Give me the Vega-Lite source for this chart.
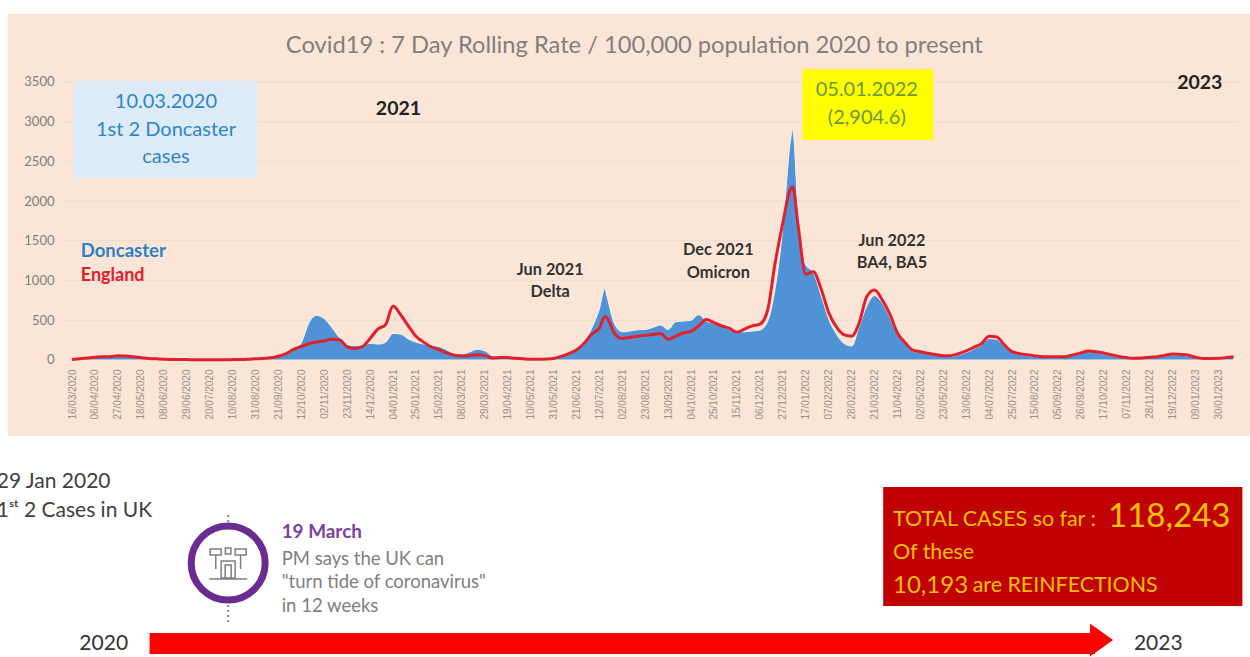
{"$schema":"https://vega.github.io/schema/vega-lite/v6.json","width":1250,"height":657,"padding":0,"autosize":{"type":"fit","contains":"padding"},"background":"#ffffff","view":{"stroke":null},
"datasets":{"series":[
{"date":"2020-03-16","doncaster":5,"england":5},{"date":"2020-03-23","doncaster":15,"england":15},{"date":"2020-03-30","doncaster":30,"england":25},{"date":"2020-04-06","doncaster":40,"england":35},{"date":"2020-04-13","doncaster":45,"england":40},{"date":"2020-04-20","doncaster":50,"england":42},{"date":"2020-04-27","doncaster":65,"england":52},{"date":"2020-05-04","doncaster":72,"england":50},{"date":"2020-05-11","doncaster":50,"england":40},{"date":"2020-05-18","doncaster":40,"england":30},{"date":"2020-05-25","doncaster":32,"england":20},{"date":"2020-06-01","doncaster":35,"england":15},{"date":"2020-06-08","doncaster":15,"england":10},{"date":"2020-06-15","doncaster":8,"england":6},{"date":"2020-06-22","doncaster":6,"england":5},{"date":"2020-06-29","doncaster":5,"england":5},{"date":"2020-07-06","doncaster":5,"england":4},{"date":"2020-07-13","doncaster":4,"england":4},{"date":"2020-07-20","doncaster":4,"england":4},{"date":"2020-07-27","doncaster":5,"england":4},{"date":"2020-08-03","doncaster":5,"england":4},{"date":"2020-08-10","doncaster":5,"england":5},{"date":"2020-08-17","doncaster":6,"england":6},{"date":"2020-08-24","doncaster":10,"england":9},{"date":"2020-08-31","doncaster":15,"england":15},{"date":"2020-09-07","doncaster":22,"england":20},{"date":"2020-09-14","doncaster":30,"england":28},{"date":"2020-09-21","doncaster":48,"england":48},{"date":"2020-09-28","doncaster":75,"england":80},{"date":"2020-10-05","doncaster":130,"england":135},{"date":"2020-10-12","doncaster":215,"england":170},{"date":"2020-10-19","doncaster":470,"england":205},{"date":"2020-10-26","doncaster":560,"england":225},{"date":"2020-11-02","doncaster":520,"england":240},{"date":"2020-11-09","doncaster":410,"england":262},{"date":"2020-11-16","doncaster":280,"england":255},{"date":"2020-11-23","doncaster":195,"england":165},{"date":"2020-11-30","doncaster":180,"england":145},{"date":"2020-12-07","doncaster":188,"england":170},{"date":"2020-12-14","doncaster":210,"england":270},{"date":"2020-12-21","doncaster":200,"england":390},{"date":"2020-12-28","doncaster":220,"england":440},{"date":"2021-01-04","doncaster":335,"england":680},{"date":"2021-01-11","doncaster":325,"england":570},{"date":"2021-01-18","doncaster":265,"england":430},{"date":"2021-01-25","doncaster":225,"england":300},{"date":"2021-02-01","doncaster":200,"england":225},{"date":"2021-02-08","doncaster":185,"england":165},{"date":"2021-02-15","doncaster":170,"england":130},{"date":"2021-02-22","doncaster":130,"england":90},{"date":"2021-03-01","doncaster":85,"england":60},{"date":"2021-03-08","doncaster":75,"england":50},{"date":"2021-03-15","doncaster":100,"england":55},{"date":"2021-03-22","doncaster":135,"england":65},{"date":"2021-03-29","doncaster":115,"england":55},{"date":"2021-04-05","doncaster":55,"england":25},{"date":"2021-04-12","doncaster":45,"england":30},{"date":"2021-04-19","doncaster":40,"england":30},{"date":"2021-04-26","doncaster":30,"england":22},{"date":"2021-05-03","doncaster":20,"england":15},{"date":"2021-05-10","doncaster":10,"england":8},{"date":"2021-05-17","doncaster":8,"england":8},{"date":"2021-05-24","doncaster":10,"england":12},{"date":"2021-05-31","doncaster":22,"england":20},{"date":"2021-06-07","doncaster":45,"england":45},{"date":"2021-06-14","doncaster":75,"england":80},{"date":"2021-06-21","doncaster":120,"england":125},{"date":"2021-06-28","doncaster":210,"england":210},{"date":"2021-07-05","doncaster":400,"england":325},{"date":"2021-07-12","doncaster":640,"england":400},{"date":"2021-07-17","doncaster":900,"england":545},{"date":"2021-07-19","doncaster":800,"england":530},{"date":"2021-07-26","doncaster":450,"england":330},{"date":"2021-08-02","doncaster":355,"england":270},{"date":"2021-08-09","doncaster":365,"england":285},{"date":"2021-08-16","doncaster":380,"england":300},{"date":"2021-08-23","doncaster":385,"england":310},{"date":"2021-08-30","doncaster":410,"england":320},{"date":"2021-09-06","doncaster":440,"england":335},{"date":"2021-09-13","doncaster":385,"england":260},{"date":"2021-09-20","doncaster":480,"england":300},{"date":"2021-09-27","doncaster":490,"england":340},{"date":"2021-10-04","doncaster":500,"england":360},{"date":"2021-10-11","doncaster":570,"england":430},{"date":"2021-10-18","doncaster":490,"england":510},{"date":"2021-10-25","doncaster":460,"england":470},{"date":"2021-11-01","doncaster":430,"england":430},{"date":"2021-11-08","doncaster":390,"england":400},{"date":"2021-11-15","doncaster":360,"england":350},{"date":"2021-11-22","doncaster":355,"england":390},{"date":"2021-11-29","doncaster":365,"england":430},{"date":"2021-12-06","doncaster":375,"england":450},{"date":"2021-12-13","doncaster":480,"england":620},{"date":"2021-12-20","doncaster":900,"england":1220},{"date":"2021-12-27","doncaster":1650,"england":1720},{"date":"2022-01-03","doncaster":2750,"england":2150},{"date":"2022-01-05","doncaster":2904.6,"england":2180},{"date":"2022-01-10","doncaster":1900,"england":1700},{"date":"2022-01-17","doncaster":1200,"england":1080},{"date":"2022-01-24","doncaster":1100,"england":1110},{"date":"2022-01-31","doncaster":820,"england":900},{"date":"2022-02-07","doncaster":520,"england":600},{"date":"2022-02-14","doncaster":330,"england":420},{"date":"2022-02-21","doncaster":210,"england":320},{"date":"2022-02-28","doncaster":175,"england":300},{"date":"2022-03-07","doncaster":420,"england":465},{"date":"2022-03-14","doncaster":680,"england":800},{"date":"2022-03-21","doncaster":810,"england":880},{"date":"2022-03-28","doncaster":720,"england":760},{"date":"2022-04-04","doncaster":540,"england":580},{"date":"2022-04-11","doncaster":320,"england":340},{"date":"2022-04-18","doncaster":210,"england":220},{"date":"2022-04-25","doncaster":110,"england":125},{"date":"2022-05-02","doncaster":95,"england":105},{"date":"2022-05-09","doncaster":85,"england":85},{"date":"2022-05-16","doncaster":65,"england":70},{"date":"2022-05-23","doncaster":50,"england":52},{"date":"2022-05-30","doncaster":45,"england":55},{"date":"2022-06-06","doncaster":65,"england":80},{"date":"2022-06-13","doncaster":95,"england":115},{"date":"2022-06-20","doncaster":140,"england":160},{"date":"2022-06-27","doncaster":185,"england":205},{"date":"2022-07-04","doncaster":270,"england":300},{"date":"2022-07-11","doncaster":260,"england":290},{"date":"2022-07-18","doncaster":170,"england":190},{"date":"2022-07-25","doncaster":95,"england":105},{"date":"2022-08-01","doncaster":70,"england":80},{"date":"2022-08-08","doncaster":55,"england":65},{"date":"2022-08-15","doncaster":45,"england":52},{"date":"2022-08-22","doncaster":38,"england":42},{"date":"2022-08-29","doncaster":35,"england":40},{"date":"2022-09-05","doncaster":35,"england":40},{"date":"2022-09-12","doncaster":38,"england":42},{"date":"2022-09-19","doncaster":60,"england":65},{"date":"2022-09-26","doncaster":85,"england":90},{"date":"2022-10-03","doncaster":105,"england":112},{"date":"2022-10-10","doncaster":95,"england":105},{"date":"2022-10-17","doncaster":75,"england":88},{"date":"2022-10-24","doncaster":55,"england":65},{"date":"2022-10-31","doncaster":35,"england":45},{"date":"2022-11-07","doncaster":25,"england":30},{"date":"2022-11-14","doncaster":18,"england":22},{"date":"2022-11-21","doncaster":20,"england":24},{"date":"2022-11-28","doncaster":30,"england":35},{"date":"2022-12-05","doncaster":35,"england":42},{"date":"2022-12-12","doncaster":50,"england":58},{"date":"2022-12-19","doncaster":65,"england":75},{"date":"2022-12-26","doncaster":60,"england":70},{"date":"2023-01-02","doncaster":50,"england":62},{"date":"2023-01-09","doncaster":28,"england":35},{"date":"2023-01-16","doncaster":15,"england":20},{"date":"2023-01-23","doncaster":15,"england":20},{"date":"2023-01-30","doncaster":18,"england":22},{"date":"2023-02-06","doncaster":25,"england":30},{"date":"2023-02-13","doncaster":35,"england":42}
]},
"config":{"text":{"dy":1}},
"encoding":{"x":{"field":"date","type":"temporal","title":null,"scale":{"type":"utc","domain":["2020-01-10","2023-02-28"],"nice":false},"axis":{"title":null,"orient":"bottom","offset":-295,"zindex":1,"grid":false,"domain":false,"ticks":false,"labelPadding":7,"labelAngle":270,"labelAlign":"right","labelBaseline":"middle","labelFont":"Liberation Sans","labelFontSize":10,"labelColor":"#9a8f88","labelOverlap":false,"format":"%d/%m/%Y","values":["2020-03-16","2020-04-06","2020-04-27","2020-05-18","2020-06-08","2020-06-29","2020-07-20","2020-08-10","2020-08-31","2020-09-21","2020-10-12","2020-11-02","2020-11-23","2020-12-14","2021-01-04","2021-01-25","2021-02-15","2021-03-08","2021-03-29","2021-04-19","2021-05-10","2021-05-31","2021-06-21","2021-07-12","2021-08-02","2021-08-23","2021-09-13","2021-10-04","2021-10-25","2021-11-15","2021-12-06","2021-12-27","2022-01-17","2022-02-07","2022-02-28","2022-03-21","2022-04-11","2022-05-02","2022-05-23","2022-06-13","2022-07-04","2022-07-25","2022-08-15","2022-09-05","2022-09-26","2022-10-17","2022-11-07","2022-11-28","2022-12-19","2023-01-09","2023-01-30"]}},
"y":{"field":"level","type":"quantitative","title":null,"scale":{"domain":[-3739,4532],"nice":false,"zero":false},"axis":{"title":null,"offset":-56,"zindex":1,"grid":false,"domain":false,"ticks":false,"labelPadding":2,"labelFont":"Lato","labelFontSize":13,"labelColor":"#7f7f7f","format":"d","values":[0,500,1000,1500,2000,2500,3000,3500]}}},
"layer":[
{"data":{"values":[{"date":"2020-01-17","date2":"2023-02-28","level":-957,"level2":4356}]},"mark":{"type":"rect","fill":"#fbe5d6"},"encoding":{"x2":{"field":"date2"},"y2":{"field":"level2"}}},
{"data":{"values":[{"date":"2020-03-07","date2":"2023-02-18","level":500},{"date":"2020-03-07","date2":"2023-02-18","level":1000},{"date":"2020-03-07","date2":"2023-02-18","level":1500},{"date":"2020-03-07","date2":"2023-02-18","level":2000},{"date":"2020-03-07","date2":"2023-02-18","level":2500},{"date":"2020-03-07","date2":"2023-02-18","level":3000},{"date":"2020-03-07","date2":"2023-02-18","level":3500}]},"mark":{"type":"rule","color":"#f1ddcf","strokeWidth":1.5},"encoding":{"x2":{"field":"date2"}}},
{"data":{"name":"series"},"mark":{"type":"area","color":"#4f93d6","stroke":"#f6f1ec","strokeWidth":1,"interpolate":"monotone"},"encoding":{"y":{"field":"doncaster","type":"quantitative","stack":null,"title":null,"axis":{"title":null,"offset":-56,"zindex":1,"grid":false,"domain":false,"ticks":false,"labelPadding":2,"labelFont":"Lato","labelFontSize":13,"labelColor":"#7f7f7f","format":"d","values":[0,500,1000,1500,2000,2500,3000,3500]}}}},
{"data":{"name":"series"},"mark":{"type":"line","color":"#e2202c","strokeWidth":3,"strokeJoin":"round","interpolate":"monotone"},"encoding":{"y":{"field":"england","type":"quantitative","title":null,"axis":{"title":null,"offset":-56,"zindex":1,"grid":false,"domain":false,"ticks":false,"labelPadding":2,"labelFont":"Lato","labelFontSize":13,"labelColor":"#7f7f7f","format":"d","values":[0,500,1000,1500,2000,2500,3000,3500]}}}},
{"data":{"values":[{"date":"2020-03-17","date2":"2020-09-02","level":2291,"level2":3513}]},"mark":{"type":"rect","fill":"#dcebf7"},"encoding":{"x2":{"field":"date2"},"y2":{"field":"level2"}}},
{"data":{"values":[{"date":"2022-01-14","date2":"2022-05-14","level":2770,"level2":3664}]},"mark":{"type":"rect","fill":"#ffff00"},"encoding":{"x2":{"field":"date2"},"y2":{"field":"level2"}}},
{"data":{"values":[{"date":"2022-03-29","date2":"2023-02-21","level":-3097,"level2":-1599}]},"mark":{"type":"rect","fill":"#c00000"},"encoding":{"x2":{"field":"date2"},"y2":{"field":"level2"}}},
{"data":{"values":[{"date":"2020-05-26","date2":"2022-10-09","level":-3701,"level2":-3437}]},"mark":{"type":"rect","fill":"#ff0000"},"encoding":{"x2":{"field":"date2"},"y2":{"field":"level2"}}},
{"data":{"values":[{"date":"2022-10-15","level":-3525}]},"mark":{"type":"point","shape":"M-0.7,-1L0.7,0L-0.7,1Z","filled":true,"fill":"#ff0000","stroke":null,"opacity":1,"size":1089}},
{"data":{"values":[{"date":"2020-08-06","level":-1951,"level2":-2040},{"date":"2020-08-06","level":-3085,"level2":-3336}]},"mark":{"type":"rule","color":"#8a8a8a","strokeWidth":2,"strokeDash":[2,3]},"encoding":{"y2":{"field":"level2"}}},
{"data":{"values":[{"date":"2020-08-06","level":-2556}]},"mark":{"type":"point","shape":"circle","filled":false,"stroke":"#6a2c91","strokeWidth":7,"opacity":1,"size":5476}},
{"data":{"values":[{"date":"2020-08-06","level":-2556}]},"mark":{"type":"point","shape":"M-0.9,-0.7H-0.35V-0.4H-0.9ZM0.35,-0.7H0.9V-0.4H0.35ZM-0.62,-0.4V0.3M0.62,-0.4V0.3M-0.14,-0.75H0.14V-0.45H-0.14ZM-0.35,-0.1H0.35V0.75H-0.35ZM-0.15,0.1H0.15V0.75H-0.15ZM-0.95,0.8H0.95","filled":false,"stroke":"#7f7f7f","strokeWidth":1.5,"opacity":1,"size":1600}},
{"data":{"values":[{"date":"2021-08-13","level":3966,"label":"Covid19 : 7 Day Rolling Rate / 100,000 population 2020 to present"}]},"mark":{"type":"text","font":"Lato","fontSize":23.7,"color":"#7f7f7f","align":"center","baseline":"middle"},"encoding":{"text":{"field":"label"}}},
{"data":{"values":[{"date":"2020-06-10","level":3261,"label":"10.03.2020"},{"date":"2020-06-10","level":2908,"label":"1st 2 Doncaster"},{"date":"2020-06-10","level":2568,"label":"cases"}]},"mark":{"type":"text","font":"Lato","fontSize":20,"color":"#2e86c8","align":"center","baseline":"middle"},"encoding":{"text":{"field":"label"}}},
{"data":{"values":[{"date":"2022-03-14","level":3412,"label":"05.01.2022"},{"date":"2022-03-14","level":3059,"label":"(2,904.6)"}]},"mark":{"type":"text","font":"Lato","fontSize":20,"color":"#6a9a3a","align":"center","baseline":"middle"},"encoding":{"text":{"field":"label"}}},
{"data":{"values":[{"date":"2021-01-09","level":3173,"label":"2021"},{"date":"2023-01-13","level":3500,"label":"2023"}]},"mark":{"type":"text","font":"Lato","fontSize":19.5,"fontWeight":"bold","color":"#222222","align":"center","baseline":"middle"},"encoding":{"text":{"field":"label"}}},
{"data":{"values":[{"date":"2020-03-24","level":1385,"label":"Doncaster"}]},"mark":{"type":"text","font":"Lato","fontSize":18.5,"fontWeight":"bold","color":"#2e7fc4","align":"left","baseline":"middle"},"encoding":{"text":{"field":"label"}}},
{"data":{"values":[{"date":"2020-03-24","level":1070,"label":"England"}]},"mark":{"type":"text","font":"Lato","fontSize":18,"fontWeight":"bold","color":"#e2202c","align":"left","baseline":"middle"},"encoding":{"text":{"field":"label"}}},
{"data":{"values":[{"date":"2021-05-28","level":1146,"label":"Jun 2021"},{"date":"2021-05-28","level":869,"label":"Delta"},{"date":"2021-10-29","level":1397,"label":"Dec 2021"},{"date":"2021-10-29","level":1108,"label":"Omicron"},{"date":"2022-04-06","level":1511,"label":"Jun 2022"},{"date":"2022-04-06","level":1234,"label":"BA4, BA5"}]},"mark":{"type":"text","font":"Lato","fontSize":16.3,"fontWeight":"bold","color":"#333333","align":"center","baseline":"middle"},"encoding":{"text":{"field":"label"}}},
{"data":{"values":[{"date":"2020-01-07","level":-1523,"label":"29 Jan 2020"},{"date":"2020-01-07","level":-1889,"label":"1ˢᵗ 2 Cases in UK"}]},"mark":{"type":"text","font":"Lato","fontSize":21,"color":"#404040","align":"left","baseline":"middle","clip":true},"encoding":{"text":{"field":"label"}}},
{"data":{"values":[{"date":"2020-09-24","level":-2153,"label":"19 March"}]},"mark":{"type":"text","font":"Lato","fontSize":18.9,"fontWeight":"bold","color":"#7b3fa0","align":"left","baseline":"middle"},"encoding":{"text":{"field":"label"}}},
{"data":{"values":[{"date":"2020-09-24","level":-2493,"label":"PM says the UK can"},{"date":"2020-09-24","level":-2782,"label":"\"turn tide of coronavirus\""},{"date":"2020-09-24","level":-3085,"label":"in 12 weeks"}]},"mark":{"type":"text","font":"Lato","fontSize":18.5,"color":"#808080","align":"left","baseline":"middle"},"encoding":{"text":{"field":"label"}}},
{"data":{"values":[{"date":"2020-04-14","level":-3563,"label":"2020"},{"date":"2022-12-06","level":-3563,"label":"2023"}]},"mark":{"type":"text","font":"Lato","fontSize":21,"color":"#333333","align":"center","baseline":"middle"},"encoding":{"text":{"field":"label"}}},
{"data":{"values":[{"date":"2022-04-07","level":-2002,"label":"TOTAL CASES so far :"},{"date":"2022-04-07","level":-2417,"label":"Of these"},{"date":"2022-06-19","level":-2833,"label":"are REINFECTIONS"}]},"mark":{"type":"text","font":"Lato","fontSize":21.4,"color":"#ffc000","align":"left","baseline":"middle"},"encoding":{"text":{"field":"label"}}},
{"data":{"values":[{"date":"2022-04-07","level":-2833,"label":"10,193"}]},"mark":{"type":"text","font":"Lato","fontSize":24,"color":"#ffc000","align":"left","baseline":"middle"},"encoding":{"text":{"field":"label"}}},
{"data":{"values":[{"date":"2022-10-21","level":-1964,"label":"118,243"}]},"mark":{"type":"text","font":"Lato","fontSize":33,"color":"#ffc000","align":"left","baseline":"middle"},"encoding":{"text":{"field":"label"}}}
]}
